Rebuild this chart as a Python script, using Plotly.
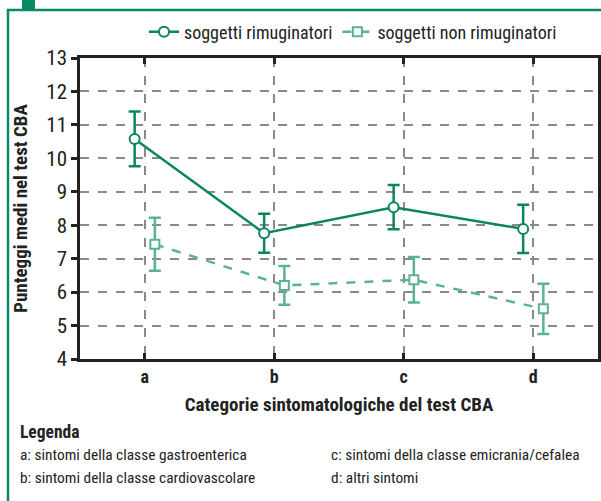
import plotly.graph_objects as go

categories = ["a", "b", "c", "d"]
cat_pos = [0, 1, 2, 3]
rim_mean = [10.58, 7.76, 8.54, 7.89]
rim_err = [0.82, 0.58, 0.66, 0.72]
non_mean = [7.43, 6.2, 6.37, 5.5]
non_err = [0.79, 0.58, 0.68, 0.75]
series_names = ["soggetti rimuginatori", "soggetti non rimuginatori"]
y_ticks = list(range(4, 14))

DARK = "#0a8560"
LIGHT = "#5cb394"
FRAME = "#0a8a64"
FONT = "Roboto Condensed, Liberation Sans, sans-serif"

W, H = 601, 501
ML, MR, MT, MB = 80, 3, 58, 142
PW, PH = W - ML - MR, H - MT - MB


def px(x):
    return (x - ML) / PW


def py(y):
    return (H - MB - y) / PH


offset = 0.078
fig = go.Figure()
fig.add_trace(go.Scatter(
    x=[c - offset for c in cat_pos], y=rim_mean, name=series_names[0],
    mode="lines+markers",
    line=dict(color=DARK, width=2.5),
    marker=dict(symbol="circle", size=10, color="white", line=dict(color=DARK, width=2)),
    error_y=dict(type="data", array=rim_err, color=DARK, thickness=2.5, width=6),
))
fig.add_trace(go.Scatter(
    x=[c + offset for c in cat_pos], y=non_mean, name=series_names[1],
    mode="lines+markers",
    line=dict(color=LIGHT, width=2.5, dash="dash"),
    marker=dict(symbol="square", size=9, color="white", line=dict(color=LIGHT, width=2)),
    error_y=dict(type="data", array=non_err, color=LIGHT, thickness=2.5, width=6),
))

shapes = [
    dict(type="line", xref="paper", yref="paper", x0=px(8), x1=px(8), y0=py(9), y1=py(H + 5),
         line=dict(color=FRAME, width=2.5)),
    dict(type="line", xref="paper", yref="paper", x0=px(7), x1=px(W + 5), y0=py(10), y1=py(10),
         line=dict(color=FRAME, width=2.5)),
    dict(type="rect", xref="paper", yref="paper", x0=px(22), x1=px(35), y0=py(-2), y1=py(10),
         fillcolor=FRAME, line=dict(width=0)),
]

TXT = dict(size=15.4, color="#222")
annotations = [
    dict(text="<b>Legenda</b>", x=px(18), y=py(432), xref="paper", yref="paper",
         xanchor="left", yanchor="middle", showarrow=False, font=dict(size=17.5, color="#222")),
    dict(text="a: sintomi della classe gastroenterica", x=px(18), y=py(455), xref="paper", yref="paper",
         xanchor="left", yanchor="middle", showarrow=False, font=TXT),
    dict(text="b: sintomi della classe cardiovascolare", x=px(18), y=py(478), xref="paper", yref="paper",
         xanchor="left", yanchor="middle", showarrow=False, font=TXT),
    dict(text="c: sintomi della classe emicrania/cefalea", x=px(329), y=py(455), xref="paper", yref="paper",
         xanchor="left", yanchor="middle", showarrow=False, font=TXT),
    dict(text="d: altri sintomi", x=px(329), y=py(478), xref="paper", yref="paper",
         xanchor="left", yanchor="middle", showarrow=False, font=TXT),
]

fig.update_layout(
    width=W, height=H,
    margin=dict(l=ML, r=MR, t=MT, b=MB, autoexpand=False),
    paper_bgcolor="white", plot_bgcolor="white",
    font=dict(family=FONT, color="#222", size=17),
    showlegend=True,
    legend=dict(orientation="h", x=px(353), y=py(32), xanchor="center", yanchor="middle",
                font=dict(size=18), itemwidth=30, bgcolor="rgba(0,0,0,0)"),
    xaxis=dict(
        range=[-0.5, 3.5], tickvals=cat_pos, ticktext=["<b>%s</b>" % c for c in categories],
        showgrid=True, gridcolor="#8a8a8a", griddash="dash", gridwidth=1.5,
        showline=True, linecolor="#222", linewidth=2.5, mirror="ticks",
        ticks="inside", ticklen=6, tickwidth=2.5, tickcolor="#222",
        tickfont=dict(size=18), zeroline=False, automargin=False,
        title=dict(text="<b>Categorie sintomatologiche del test CBA</b>", font=dict(size=19), standoff=12),
    ),
    yaxis=dict(
        range=[4, 13], tickvals=y_ticks,
        showgrid=True, gridcolor="#8a8a8a", griddash="dash", gridwidth=1.5,
        showline=True, linecolor="#222", linewidth=2.5, mirror="ticks",
        ticks="outside", ticklen=6, tickwidth=2.5, tickcolor="#222",
        tickfont=dict(size=21), zeroline=False, automargin=False,
        title=dict(text="<b>Punteggi medi nel test CBA</b>", font=dict(size=19), standoff=14),
    ),
    shapes=shapes,
    annotations=annotations,
)

fig.write_html("out.html", config={"displayModeBar": False},
               post_script="document.body.style.margin='0';")
